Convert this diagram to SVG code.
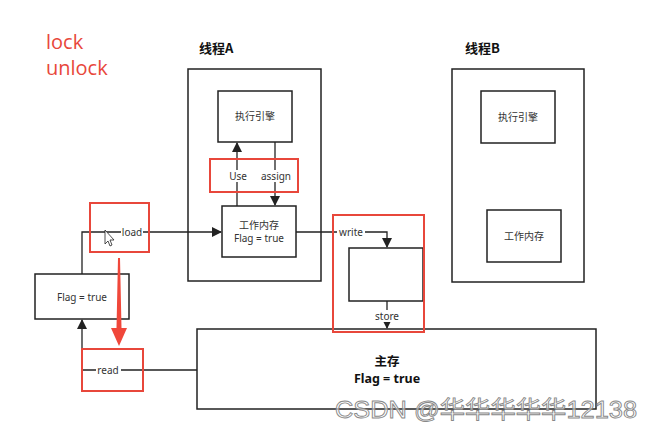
<svg xmlns="http://www.w3.org/2000/svg" width="653" height="431" viewBox="0 0 653 431">
<style>
.box{fill:#fff;stroke:#222;stroke-width:1.5}
.red{fill:none;stroke:#e8473b;stroke-width:2}
.ln{fill:none;stroke:#222;stroke-width:1.3}
.t{font-family:"Noto Sans","Noto Sans CJK SC",sans-serif;font-size:10px;fill:#333;text-anchor:middle}
.title{font-family:"Noto Sans CJK SC",sans-serif;font-size:13px;font-weight:bold;fill:#111}
.big{font-family:"Noto Sans","Noto Sans CJK SC",sans-serif;font-size:12.5px;font-weight:bold;fill:#111;text-anchor:middle}
.lk{font-family:"Open Sans",sans-serif;font-size:20px;fill:#e8473b}
.bg{fill:#fff}
</style>
<defs>
<marker id="ah" markerWidth="10" markerHeight="10" refX="9" refY="5" orient="auto" markerUnits="userSpaceOnUse">
<path d="M0,0 L10,5 L0,10 z" fill="#222"/>
</marker>
</defs>
<rect width="653" height="431" fill="#fff"/>
<text class="lk" x="46" y="49">lock</text>
<text class="lk" x="46" y="75">unlock</text>
<text class="title" x="199" y="53">线程A</text>
<text class="title" x="465" y="53">线程B</text>

<g id="threadA"><rect class="box" x="188" y="69" width="133" height="212"/></g>
<g id="threadB"><rect class="box" x="452" y="69" width="132" height="213"/></g>

<g id="engineA"><rect class="box" x="218" y="91" width="74" height="51"/><text class="t" x="255" y="120">执行引擎</text></g>
<g id="workA"><rect class="box" x="222" y="206" width="74" height="51"/><text class="t" x="259" y="229">工作内存</text><text class="t" x="259" y="242">Flag = true</text></g>
<g id="engineB"><rect class="box" x="481" y="91" width="74" height="52"/><text class="t" x="518" y="121">执行引擎</text></g>
<g id="workB"><rect class="box" x="487" y="210" width="74" height="52"/><text class="t" x="524" y="240">工作内存</text></g>
<g id="flagLeft"><rect class="box" x="35" y="274" width="94" height="45"/><text class="t" x="82" y="301">Flag = true</text></g>
<g id="midBox"><rect class="box" x="349" y="248" width="74" height="53"/></g>
<g id="mainMem"><rect class="box" x="197" y="329" width="399" height="80"/><text class="big" x="387" y="366">主存</text><text class="big" x="387" y="383">Flag = true</text></g>

<g id="connectors">
<path class="ln" d="M237,206 V143" marker-end="url(#ah)"/>
<path class="ln" d="M275,142 V205" marker-end="url(#ah)"/>
<path class="ln" d="M82,274 V232 H221" marker-end="url(#ah)"/>
<path class="ln" d="M296,232 H387 V247" marker-end="url(#ah)"/>
<path class="ln" d="M387,301 V328" marker-end="url(#ah)"/>
<path class="ln" d="M197,370 H82 V320" marker-end="url(#ah)"/>
<rect class="bg" x="224" y="170" width="26" height="12"/>
<text class="t" x="238" y="180">Use</text>
<rect class="bg" x="259" y="170" width="34" height="12"/>
<text class="t" x="276" y="180">assign</text>
<rect class="bg" x="121" y="226" width="22" height="12"/>
<text class="t" x="132" y="236">load</text>
<rect class="bg" x="337" y="226" width="28" height="12"/>
<text class="t" x="351" y="236">write</text>
<rect class="bg" x="373" y="310" width="28" height="12"/>
<text class="t" x="387" y="320">store</text>
<rect class="bg" x="96" y="364" width="25" height="12"/>
<text class="t" x="108" y="374">read</text>
</g>

<g id="highlights">
<rect class="red" x="210" y="159" width="88" height="33"/>
<rect class="red" x="90" y="203" width="59" height="49"/>
<rect class="red" x="82" y="349" width="61" height="42"/>
<rect class="red" x="333" y="215" width="91" height="117"/>
<path d="M118,258 L120,258 L121.5,328 L127,328 L119,346 L111,328 L116.5,328 z" fill="#f0473a"/>
</g>

<path d="M105,230 L105,244 L108,241 L110,246 L112,245 L110,240 L114,240 z" fill="#fff" stroke="#222" stroke-width="0.8"/>

<text x="335" y="418" textLength="302" lengthAdjust="spacingAndGlyphs" font-family="Liberation Sans,Noto Sans CJK SC,sans-serif" font-size="24" fill="#fff" stroke="#888" stroke-width="0.9" fill-opacity="0.6">CSDN @华华华华华12138</text>
</svg>
